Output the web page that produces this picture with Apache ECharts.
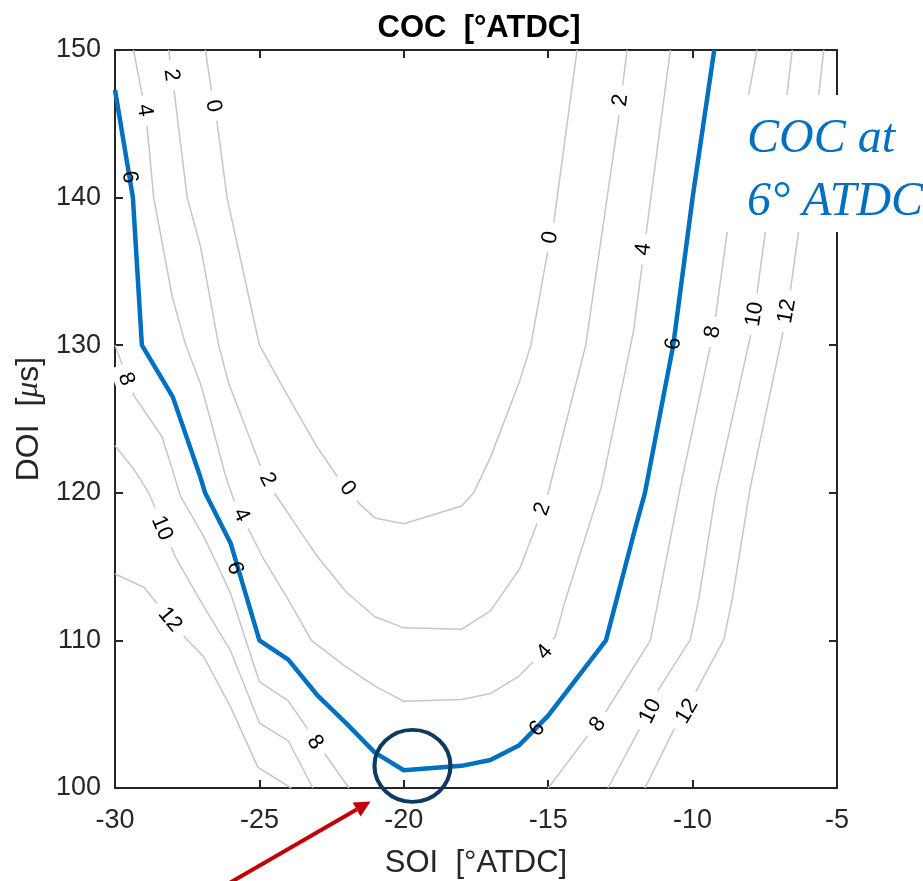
<!DOCTYPE html>
<html><head><meta charset="utf-8">
<script src="https://cdn.jsdelivr.net/npm/echarts@6/dist/echarts.min.js"></script>
<style>html,body{margin:0;padding:0;background:#fff}#c{width:923px;height:881px}</style>
</head><body><div id="c"></div>
<script>
// ---------- data ----------
const xTicks = [-30, -25, -20, -15, -10, -5];
const yTicks = [100, 110, 120, 130, 140, 150];

// contour polylines [SOI, DOI]
const c0 = [[-26.87,150],[-26.64,147],[-26.46,145],[-26.12,140],[-25.0,130],[-24.0,126.5],[-23.0,123.1],[-22.3,121.1],[-21.56,119.3],[-21.0,118.3],[-20.0,117.9],[-18.0,119.1],[-17.58,120],[-17.0,122.4],[-16.0,127.5],[-15.6,130],[-15.05,136],[-14.8,138.4],[-14.0,150]];
const c2 = [[-28.14,150],[-27.97,147.5],[-27.5,140],[-27.04,136.7],[-26.41,130],[-26.06,127.4],[-25.0,122],[-24.45,119.9],[-23.47,117.05],[-23.0,115.7],[-22.0,113.3],[-21.0,111.6],[-20.0,110.85],[-18.0,110.75],[-17.0,112.0],[-16.0,114.8],[-15.38,117.95],[-15.0,120],[-13.7,130],[-12.56,145.4],[-12.27,150]];
const c4 = [[-29.36,150],[-29.06,147],[-28.89,144.8],[-28.66,140],[-28.02,133.3],[-27.55,130],[-27.04,127.4],[-26.7,125],[-26.18,121.2],[-25.9,119.6],[-25.37,117.5],[-24.85,115.5],[-24.0,112.76],[-23.2,110],[-22.0,108.2],[-21.0,106.9],[-20.0,105.87],[-18.0,106.0],[-17.0,106.4],[-16.0,107.6],[-15.5,108.6],[-14.75,110.27],[-14.4,112.76],[-13.16,120.4],[-12.04,131],[-11.68,136.5],[-10.77,150]];
const coc6 = [[-30,147.3],[-29.38,140],[-29.07,130],[-28.0,126.5],[-27.05,121.1],[-26.88,120],[-26.0,116.6],[-25.0,110],[-24.0,108.7],[-23.0,106.3],[-22.0,104.4],[-21.0,102.4],[-20.0,101.2],[-18.0,101.5],[-17.0,101.9],[-16.0,102.9],[-15.0,104.9],[-13.0,110],[-12.0,117.5],[-11.65,120],[-10.67,130],[-10.0,140],[-9.25,150]];
const c8L = [[-30,130],[-29.35,126.6],[-28.37,123.8],[-27.97,121.3],[-27.74,119.8],[-26.93,117.05],[-26.55,115.5],[-26.0,113.2],[-25.0,107.2],[-24.0,105.9],[-22.66,102.1],[-21.9,100]];
const c8R = [[-15.0,100],[-13.65,103.5],[-12.96,105.3],[-11.46,110],[-10.42,120.4],[-9.38,130],[-9.2,132],[-8.8,137.7],[-8.06,147],[-7.77,150]];
const c10L = [[-30,123.2],[-29.35,121.6],[-28.83,120],[-27.9,115.6],[-26.9,112.2],[-26.0,109.3],[-25.0,104.4],[-24.0,103.2],[-23.15,100]];
const c10R = [[-12.93,100],[-11.92,103.7],[-11.17,106.7],[-10.08,110.05],[-9.79,112.76],[-9.2,120],[-8.0,130.6],[-7.77,133.5],[-7.48,137.7],[-6.73,147],[-6.55,150]];
const c12L = [[-30,114.5],[-29,113.6],[-27.56,110.16],[-26.93,108.9],[-26.0,105.5],[-25.05,101.4],[-23.9,100]];
const c12R = [[-11.65,100],[-10.65,103.95],[-9.84,106.7],[-8.92,110.05],[-8.63,112.76],[-8.0,120.4],[-6.9,130.6],[-6.61,133.76],[-6.33,137.7],[-5.63,147],[-5.46,150]];

// contour label positions [SOI, DOI]
const lab0 = [[-26.6,146.2],[-21.95,120.3],[-14.93,137.3]];
const lab2 = [[-28.05,148.3],[-24.72,120.9],[-15.2,118.9],[-12.5,146.6]];
const lab4 = [[-28.97,145.9],[-25.63,118.5],[-15.12,109.2],[-11.7,136.5]];
const lab6 = [[-29.5,141.4],[-25.85,114.9],[-15.38,104.0],[-10.66,130.1]];
const lab8 = [[-29.62,127.7],[-23.08,103.1],[-13.28,104.3],[-9.3,130.9]];
const lab10 = [[-28.38,117.6],[-11.46,105.2],[-7.85,132.1]];
const lab12 = [[-28.1,111.4],[-10.19,105.2],[-6.73,132.3]];

const highlight = [[-19.7, 101.5]];

const grayLevels = [0, 2, 4, 8, 10, 12];
const contourLines = {0:[c0], 2:[c2], 4:[c4], 6:[coc6], 8:[c8L,c8R], 10:[c10L,c10R], 12:[c12L,c12R]};
const contourLabels = {0:lab0, 2:lab2, 4:lab4, 6:lab6, 8:lab8, 10:lab10, 12:lab12};

// ---------- chart ----------
const FONT = "'Liberation Sans', Arial, Helvetica, sans-serif";
const AX = '#262626';
const chart = echarts.init(document.getElementById('c'), null, {renderer: 'canvas'});

function mkX(pos, show) {
  return {
    type: 'value', position: pos, min: xTicks[0], max: xTicks[xTicks.length-1],
    interval: xTicks[1]-xTicks[0],
    axisLine: {show: true, onZero: false, lineStyle: {color: AX, width: 2}},
    axisTick: {show: true, inside: true, length: 8, lineStyle: {color: AX, width: 2}},
    axisLabel: {show: show, color: AX, fontSize: 27, fontFamily: FONT, margin: 19},
    splitLine: {show: false},
    name: show ? 'SOI  [°ATDC]' : '', nameLocation: 'middle', nameGap: 60,
    nameTextStyle: {color: AX, fontSize: 31, fontFamily: FONT}
  };
}
function mkY(pos, show) {
  return {
    type: 'value', position: pos, min: yTicks[0], max: yTicks[yTicks.length-1],
    interval: yTicks[1]-yTicks[0],
    axisLine: {show: true, onZero: false, lineStyle: {color: AX, width: 2}},
    axisTick: {show: true, inside: true, length: 8, lineStyle: {color: AX, width: 2}},
    axisLabel: {show: show, color: AX, fontSize: 27, fontFamily: FONT, margin: 14},
    splitLine: {show: false},
    name: show ? '{a|DOI  [}{b|μ}{a|s]}' : '', nameLocation: 'middle', nameGap: 70, nameRotate: 90,
    nameTextStyle: {color: AX, rich: {
      a: {fontSize: 32, fontFamily: FONT, color: AX},
      b: {fontSize: 32, fontFamily: "'Liberation Serif', 'Times New Roman', serif", fontStyle: 'italic', color: AX}
    }}
  };
}

const series = [];
grayLevels.forEach(lv => {
  contourLines[lv].forEach(poly => {
    series.push({type: 'line', data: poly, xAxisIndex: 0, yAxisIndex: 0, showSymbol: false, symbol: 'none',
      lineStyle: {color: '#c6c6c6', width: 1.5}, z: 2, silent: true, animation: false});
  });
});
series.push({type: 'line', data: coc6, xAxisIndex: 0, yAxisIndex: 0, showSymbol: false, symbol: 'none',
  lineStyle: {color: '#0070C0', width: 4.5}, z: 4, silent: true, animation: false});
series.push({type: 'scatter', data: highlight, xAxisIndex: 0, yAxisIndex: 0, symbol: 'circle', symbolSize: [76, 72],
  itemStyle: {color: 'rgba(0,0,0,0)', borderColor: '#0F3961', borderWidth: 4, opacity: 1}, z: 6, clip: false, silent: true, animation: false});

// arrow geometry (annotation, pixel space)
const tip = [370.5, 801.5], tail = [226, 885];
const dx = tip[0]-tail[0], dy = tip[1]-tail[1], L = Math.hypot(dx, dy);
const ux = dx/L, uy = dy/L, px = -uy, py = ux, HL = 16, HW = 8;
const base = [tip[0]-HL*ux, tip[1]-HL*uy];

const option = {
  animation: false,
  backgroundColor: '#fff',
  title: {text: 'COC  [°ATDC]', left: 474, top: 8, textAlign: 'center',
    textStyle: {fontSize: 31, fontWeight: 'bold', color: '#000', fontFamily: FONT}},
  grid: {left: 115, right: 86, top: 50, bottom: 93, outerBoundsMode: 'none'},
  xAxis: [mkX('bottom', true), mkX('top', false)],
  yAxis: [mkY('left', true), mkY('right', false)],
  series: series,
  graphic: [
    {type: 'rect', shape: {x: 721, y: 95, width: 202, height: 137}, style: {fill: '#fff'}, z: 100},
    {type: 'text', x: 747, y: 139, z: 101, style: {text: 'COC at', fill: '#0070C0',
      font: "italic 48px 'Liberation Serif', 'Times New Roman', serif", verticalAlign: 'middle', align: 'left'}},
    {type: 'text', x: 747, y: 202, z: 101, style: {text: '6° ATDC', fill: '#0070C0',
      font: "italic 48px 'Liberation Serif', 'Times New Roman', serif", verticalAlign: 'middle', align: 'left'}},
    {type: 'line', z: 100, shape: {x1: tail[0], y1: tail[1], x2: base[0], y2: base[1]},
      style: {stroke: '#C00000', lineWidth: 4}},
    {type: 'polygon', z: 100, shape: {points: [tip, [base[0]+HW*px, base[1]+HW*py], [base[0]-HW*px, base[1]-HW*py]]},
      style: {fill: '#C00000'}}
  ]
};
chart.setOption(option);

// contour labels, rotated along the local contour direction (MATLAB clabel style)
function angleAt(polys, pt) {
  const p = chart.convertToPixel({gridIndex: 0}, pt);
  let best = Infinity, ang = 0;
  polys.forEach(poly => {
    const pp = poly.map(v => chart.convertToPixel({gridIndex: 0}, v));
    for (let i = 0; i < pp.length-1; i++) {
      const a = pp[i], b = pp[i+1];
      const vx = b[0]-a[0], vy = b[1]-a[1];
      const t = Math.max(0, Math.min(1, ((p[0]-a[0])*vx + (p[1]-a[1])*vy)/(vx*vx+vy*vy)));
      const d = Math.hypot(a[0]+t*vx-p[0], a[1]+t*vy-p[1]);
      if (d < best) { best = d; ang = Math.atan2(-vy, vx); }
    }
  });
  if (ang > Math.PI/2) ang -= Math.PI;
  if (ang <= -Math.PI/2) ang += Math.PI;
  return ang;
}
const labelSeries = [];
[0, 2, 4, 6, 8, 10, 12].forEach(lv => {
  const isBlue = lv === 6;
  labelSeries.push({
    type: 'custom', xAxisIndex: 0, yAxisIndex: 0, coordinateSystem: 'cartesian2d',
    z: isBlue ? 5 : 3, silent: true, animation: false, clip: false,
    data: contourLabels[lv].map(pt => [pt[0], pt[1], angleAt(contourLines[lv], pt)]),
    renderItem: (params, api) => {
      const c = api.coord([api.value(0), api.value(1)]);
      return {
        type: 'text', x: c[0], y: c[1], rotation: api.value(2),
        style: {
          text: String(lv), fill: '#000', font: "22px 'Liberation Sans', Arial, sans-serif",
          align: 'center', verticalAlign: 'middle',
          backgroundColor: isBlue ? null : '#fff', padding: isBlue ? 0 : [1, 9]
        }
      };
    }
  });
});
chart.setOption({series: series.concat(labelSeries)});
</script>
</body></html>
